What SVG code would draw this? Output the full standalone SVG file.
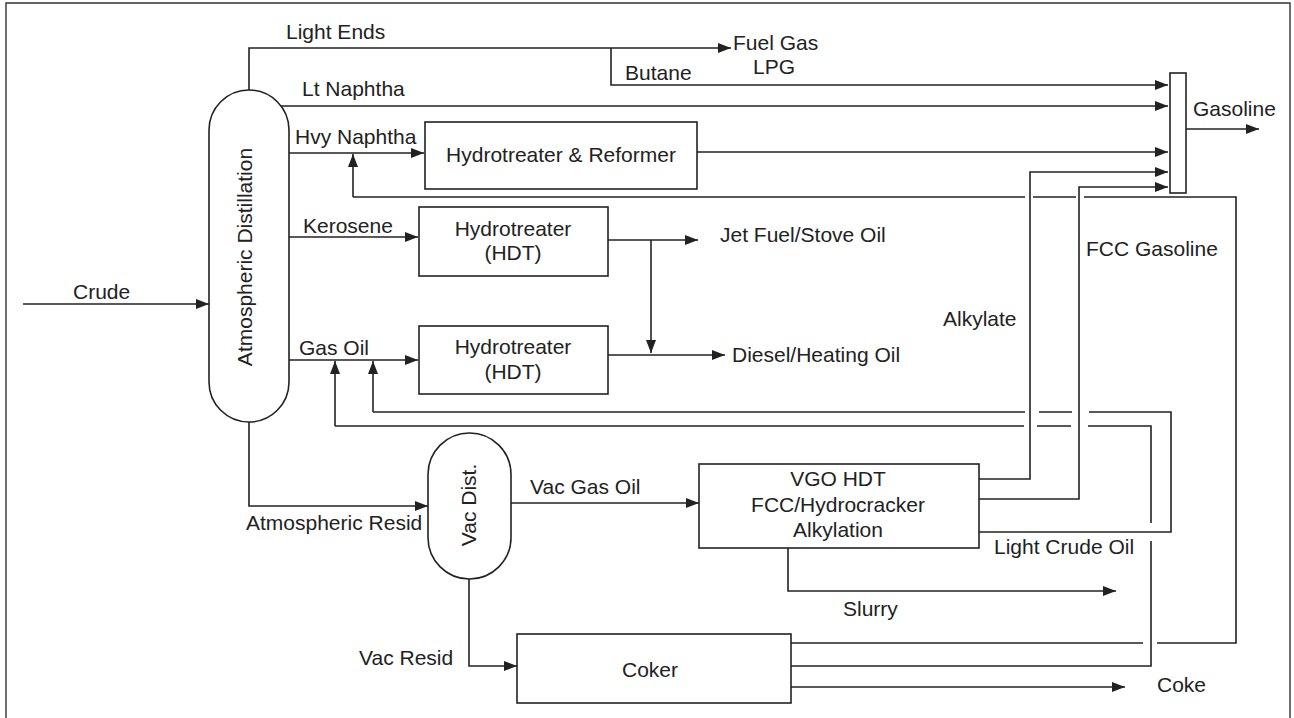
<svg xmlns="http://www.w3.org/2000/svg" width="1294" height="718" viewBox="0 0 1294 718">
<defs>
<marker id="arr" markerUnits="userSpaceOnUse" markerWidth="13" markerHeight="10" refX="13" refY="5" orient="auto">
<path d="M0,0 L13,5 L0,10 z" fill="#222"/>
</marker>
<style>
text{font-family:"Liberation Sans",Arial,sans-serif;font-size:21px;fill:#222}
.box{fill:#fff;stroke:#222;stroke-width:1.6}
.ln{fill:none;stroke:#222;stroke-width:1.6}
.a{marker-end:url(#arr)}
.c{text-anchor:middle}
</style>
</defs>
<rect width="1294" height="718" fill="#fff"/>
<path d="M6,718 V3 H1290 V718" fill="none" stroke="#333" stroke-width="1.4"/>

<g id="connectors">
<path class="ln a" d="M23,304 H209"/>
<path class="ln a" d="M249,90 V48 H731"/>
<path class="ln a" d="M611,48 V85 H1168"/>
<path class="ln a" d="M281,106 H1168"/>
<path class="ln a" d="M289,153 H424"/>
<path class="ln a" d="M697,152 H1168"/>
<path class="ln a" d="M979,479 H1030 V172 H1168"/>
<path class="ln a" d="M979,499 H1079 V187 H1168"/>
<path class="ln a" d="M1186,129 H1259"/>
<path class="ln a" d="M289,237 H418"/>
<path class="ln a" d="M608,240 H698"/>
<path class="ln a" d="M651,240 V353"/>
<path class="ln a" d="M289,360 H418"/>
<path class="ln a" d="M608,355 H725"/>
<path class="ln a" d="M249,422 V506 H428"/>
<path class="ln a" d="M511,503 H699"/>
<path class="ln a" d="M469,579 V666 H517"/>
<path class="ln a" d="M788,548 V591 H1116"/>
<path class="ln a" d="M791,687 H1125"/>
<!-- coker naphtha to hvy naphtha -->
<path class="ln" d="M791,643 H1143 M1157,643 H1236 V197 H1084 M1076,197 H1033 M1025,197 H353"/>
<path class="ln a" d="M353,197 V154"/>
<!-- coker gas oil to gas oil -->
<path class="ln" d="M791,666 H1151 V541 M1151,523 V426 H1088 M1071,426 H1037 M1024,426 H335"/>
<path class="ln a" d="M335,426 V361"/>
<!-- light crude oil -->
<path class="ln" d="M979,532 H1171 V412 H1089 M1072,412 H1039 M1025,412 H373"/>
<path class="ln a" d="M373,412 V361"/>
</g>

<g id="labels">
<text x="73" y="299">Crude</text>
<text x="286" y="39">Light Ends</text>
<text x="733" y="50">Fuel Gas</text>
<text x="753" y="74">LPG</text>
<text x="625" y="80">Butane</text>
<text x="302" y="96">Lt Naphtha</text>
<text x="295" y="144">Hvy Naphtha</text>
<text x="1193" y="116">Gasoline</text>
<text x="303" y="233">Kerosene</text>
<text x="299" y="355">Gas Oil</text>
<text x="720" y="242">Jet Fuel/Stove Oil</text>
<text x="732" y="362">Diesel/Heating Oil</text>
<text x="943" y="326">Alkylate</text>
<text x="1086" y="256">FCC Gasoline</text>
<text x="530" y="494">Vac Gas Oil</text>
<text x="246" y="530">Atmospheric Resid</text>
<text x="359" y="665">Vac Resid</text>
<text x="843" y="616">Slurry</text>
<text x="994" y="554">Light Crude Oil</text>
<text x="1157" y="692">Coke</text>
</g>

<g id="atm-dist">
<rect class="box" x="209" y="90" width="80" height="332" rx="40" ry="40"/>
<text class="c" x="252" y="257" transform="rotate(-90 252 257)">Atmospheric Distillation</text>
</g>

<g id="hdt-reformer">
<rect class="box" x="425" y="122" width="272" height="67"/>
<text class="c" x="561" y="162">Hydrotreater &amp; Reformer</text>
</g>

<g id="hdt-kero">
<rect class="box" x="419" y="207" width="189" height="69"/>
<text class="c" x="513" y="236">Hydrotreater</text>
<text class="c" x="513" y="260">(HDT)</text>
</g>

<g id="hdt-gasoil">
<rect class="box" x="419" y="326" width="189" height="68"/>
<text class="c" x="513" y="354">Hydrotreater</text>
<text class="c" x="513" y="379">(HDT)</text>
</g>

<g id="blender">
<rect class="box" x="1170" y="73" width="16" height="120"/>
</g>

<g id="vac-dist">
<rect class="box" x="428" y="433" width="83" height="146" rx="41.5" ry="41.5"/>
<text class="c" x="476" y="505" transform="rotate(-90 476 505)">Vac Dist.</text>
</g>

<g id="vgo">
<rect class="box" x="699" y="464" width="280" height="84"/>
<text class="c" x="838" y="486">VGO HDT</text>
<text class="c" x="838" y="512">FCC/Hydrocracker</text>
<text class="c" x="838" y="537">Alkylation</text>
</g>

<g id="coker">
<rect class="box" x="517" y="634" width="274" height="69"/>
<text class="c" x="650" y="677">Coker</text>
</g>
</svg>
